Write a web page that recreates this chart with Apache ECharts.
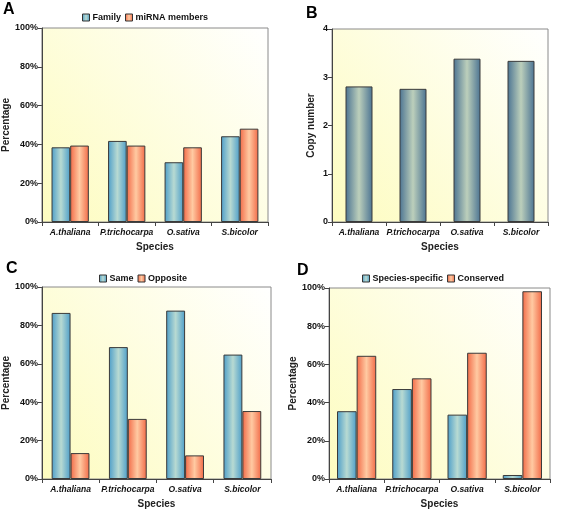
<!DOCTYPE html>
<html><head><meta charset="utf-8">
<script src="https://cdn.jsdelivr.net/npm/echarts@6/dist/echarts.min.js"></script>
<style>html,body{margin:0;padding:0;background:#fff}#c{width:563px;height:510px}</style>
</head><body><div id="c"></div>
<script>
const species = ['A.thaliana','P.trichocarpa','O.sativa','S.bicolor'];
const familyPct = [38.5, 41.8, 30.8, 44.2];
const mirnaPct = [39.4, 39.4, 38.5, 48.1];
const copyNumber = [2.81, 2.76, 3.385, 3.34];
const samePct = [86.5, 68.7, 87.7, 64.8];
const oppositePct = [13.5, 31.3, 12.3, 35.4];
const specificPct = [35.5, 47.1, 33.7, 2.1];
const conservedPct = [64.5, 52.7, 66.1, 98.3];
const pctTicks = [0, 20, 40, 60, 80, 100];
const copyTicks = [0, 1, 2, 3, 4];

const FONT = 'Liberation Sans, Arial, sans-serif';
function grad(edge, mid){
  return new echarts.graphic.LinearGradient(0,0,1,0,[
    {offset:0,color:edge},{offset:0.5,color:mid},{offset:1,color:edge}]);
}
const blue = grad('#4d9ec9','#b8dad2');
const orange = grad('#f26a47','#ffcaa2');
const steel = grad('#4b7392','#bccfbb');
const bg = new echarts.graphic.LinearGradient(0,1,1,0,[
  {offset:0,color:'#fdfcbf'},{offset:1,color:'#ffffff'}]);

const grids = [
  {left:36, top:28, width:232, height:194},
  {left:332, top:29, width:216, height:193},
  {left:39, top:287, width:232, height:192},
  {left:329, top:288, width:221, height:191}
].map(g => Object.assign(g, {show:true, backgroundColor:bg, borderColor:'#8a8a8a', borderWidth:1, containLabel:false}));

function xAx(i){
  return {type:'category', gridIndex:i, data:species,
    name:'Species', nameLocation:'middle', nameGap:20,
    nameTextStyle:{fontFamily:FONT, fontWeight:'bold', fontSize:10, color:'#222'},
    axisLine:{lineStyle:{color:'#444', width:1}},
    axisTick:{show:true, length:4, lineStyle:{color:'#444'}},
    axisLabel:{interval:0, hideOverlap:false, fontFamily:FONT, fontWeight:'bold', fontStyle:'italic', fontSize:8.5, color:'#111', margin:6}};
}
function yAx(i, name, gap, pct){
  const ticks = pct ? pctTicks : copyTicks;
  return {type:'value', gridIndex:i, min:ticks[0], max:ticks[ticks.length-1],
    interval: ticks[1]-ticks[0],
    name:name, nameLocation:'middle', nameGap:gap, nameRotate:90,
    nameTextStyle:{fontFamily:FONT, fontWeight:'bold', fontSize:10, color:'#222'},
    axisLine:{show:true, lineStyle:{color:'#444', width:1}},
    axisTick:{show:true, length:4, lineStyle:{color:'#444'}},
    splitLine:{show:false},
    axisLabel:{fontFamily:FONT, fontWeight:'bold', fontSize:9, color:'#111', margin:4,
      formatter: pct ? '{value}%' : '{value}'}};
}
function bar(name, data, idx, color, extra){
  return Object.assign({type:'bar', name:name, data:data, xAxisIndex:idx, yAxisIndex:idx,
    itemStyle:{color:color, borderColor:'#3a3a3a', borderWidth:1},
    barGap:'0%', barCategoryGap:'34%', animation:false}, extra||{});
}
function legend(names, left, top){
  return {data:names, left:left, top:top, itemWidth:7, itemHeight:7, itemGap:4,
    icon:'rect', textStyle:{fontFamily:FONT, fontWeight:'bold', fontSize:9, color:'#111', padding:[0,0,0,-2]},
    itemStyle:{borderColor:'#333', borderWidth:1}, selectedMode:false, padding:0};
}
function letter(t, x, y){
  return {type:'text', left:x, top:y, style:{text:t, font:'bold 16px '+FONT, fill:'#000'}};
}

const option = {
  animation:false,
  grid: grids,
  xAxis: [xAx(0), xAx(1), xAx(2), xAx(3)],
  yAxis: [yAx(0,'Percentage',24,true), yAx(1,'Copy number',16,false), yAx(2,'Percentage',28,true), yAx(3,'Percentage',27,true)],
  legend: [
    legend(['Family','miRNA members'], 82, 13),
    legend(['Same','Opposite'], 99, 274),
    legend(['Species-specific','Conserved'], 362, 274)
  ],
  series: [
    bar('Family', familyPct, 0, blue),
    bar('miRNA members', mirnaPct, 0, orange),
    bar('Copy number', copyNumber, 1, steel, {barWidth:'50%'}),
    bar('Same', samePct, 2, blue),
    bar('Opposite', oppositePct, 2, orange),
    bar('Species-specific', specificPct, 3, blue, {barCategoryGap:'29%'}),
    bar('Conserved', conservedPct, 3, orange, {barCategoryGap:'29%'})
  ],
  graphic: [letter('A',3,2), letter('B',306,6), letter('C',6,261), letter('D',297,263)]
};
const chart = echarts.init(document.getElementById('c'), null, {renderer:'canvas'});
chart.setOption(option);
</script></body></html>
